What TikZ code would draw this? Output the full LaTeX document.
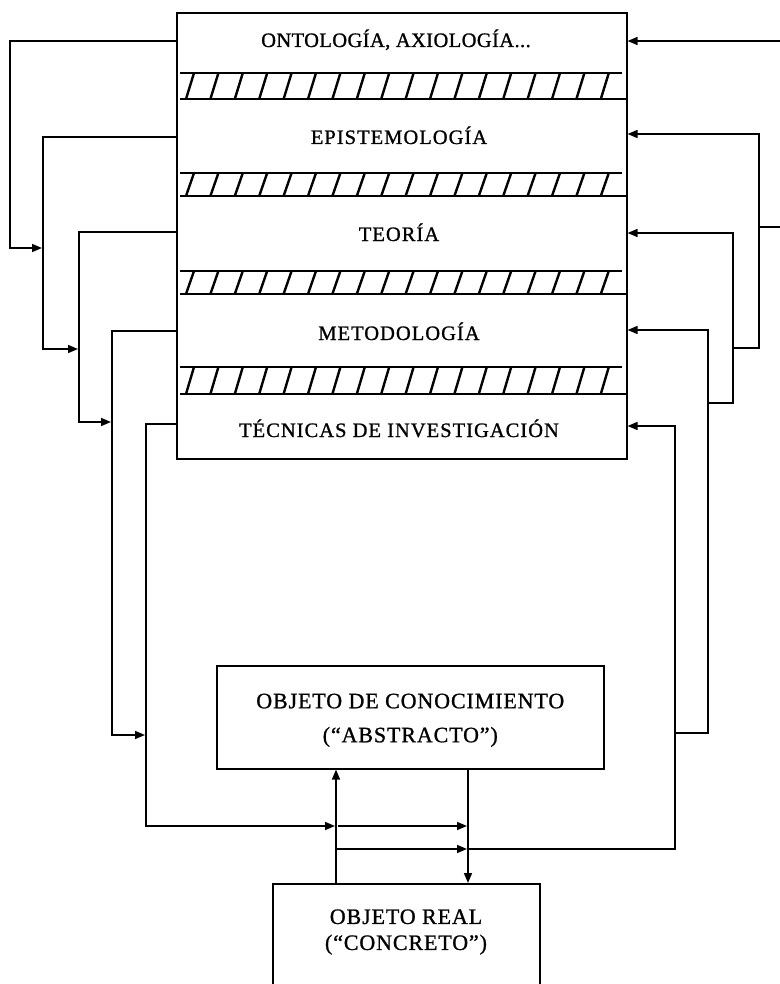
\documentclass[tikz,border=0pt]{standalone}
\usepackage{fontspec}
\setmainfont{Liberation Serif}
\usetikzlibrary{arrows.meta}
\begin{document}
\begin{tikzpicture}[x=1pt,y=-1pt,line width=1.6pt,
  tip/.style={-{Triangle[length=10pt,width=8pt]}},
  lvl/.style={font=\fontsize{20.5}{22}\selectfont\addfontfeature{LetterSpace=5,FakeBold=1}, inner sep=0pt, anchor=base},
  lvltight/.style={font=\fontsize{20.5}{22}\selectfont\addfontfeature{LetterSpace=2,FakeBold=1}, inner sep=0pt, anchor=base},
  objtxt/.style={font=\fontsize{22}{26}\selectfont\addfontfeature{LetterSpace=4,FakeBold=1}, inner sep=0pt, align=center},
  boxline/.style={draw, line width=1.6pt, inner sep=0pt},
  hatch/.style={line width=2.4pt}]
\useasboundingbox (0,0) rectangle (779,984);
% main stacked box
\node[boxline, minimum width=450pt, minimum height=446pt, anchor=north west] (main) at (176,12) {};
% hatched separators
\foreach \t/\b in {73/99, 173/196, 271/294, 367/394} {
  \draw (180,\t) -- (622,\t);
  \draw (180,\b) -- (main.east |- 0,\b);
  \foreach \i in {0,...,17}
    \draw[hatch] (186+\i*24.4,\b) -- (194+\i*24.4,\t);
}
% level labels
\node[lvltight] (ont) at (396,47) {ONTOLOGÍA, AXIOLOGÍA...};
\node[lvl] (epi) at (399,144) {EPISTEMOLOGÍA};
\node[lvl] (teo) at (399,241) {TEORÍA};
\node[lvl] (met) at (399,340) {METODOLOGÍA};
\node[lvl] (tec) at (399,437) {TÉCNICAS DE INVESTIGACIÓN};
% object boxes
\node[boxline, minimum width=387pt, minimum height=103pt, anchor=north west] (abs) at (216,665) {};
\node[objtxt] (abstxt) at ([yshift=-3pt]abs.center) {OBJETO DE CONOCIMIENTO\\[8pt](“ABSTRACTO”)};
\node[boxline, minimum width=267pt, minimum height=140pt, anchor=north west] (real) at (272,883) {};
\node[objtxt] (realtxt) at (406,932) {OBJETO REAL\\[0pt](“CONCRETO”)};
% left descending chain
\draw[tip] (main.west |- 0,41) -| (10,248) -- (42,248);
\draw[tip] (main.west |- 0,137) -| (43,349) -- (78,349);
\draw[tip] (main.west |- 0,232) -| (79,422) -- (111,422);
\draw[tip] (main.west |- 0,331) -| (112,735) -- (145,735);
\draw[tip] (main.west |- 0,424) -| (146,826) -- (335,826);
% bottom links
\draw[tip] (real.north -| 336,0) -- (abs.south -| 336,0);
\draw[tip] (abs.south -| 468,0) -- (real.north -| 468,0);
\draw[tip] (338,826) -- (467,826);
\draw[tip] (336,849) -- (467,849);
% right ascending chain
\draw[tip] (468,849) -| (675,426) -- (main.east |- 0,426);
\draw[tip] (675,733) -| (708,330) -- (main.east |- 0,330);
\draw[tip] (708,403) -| (733,233) -- (main.east |- 0,233);
\draw[tip] (733,348) -| (759,134) -- (main.east |- 0,134);
\draw[tip] (759,227) -| (795,41) -- (main.east |- 0,41);
\end{tikzpicture}
\end{document}
